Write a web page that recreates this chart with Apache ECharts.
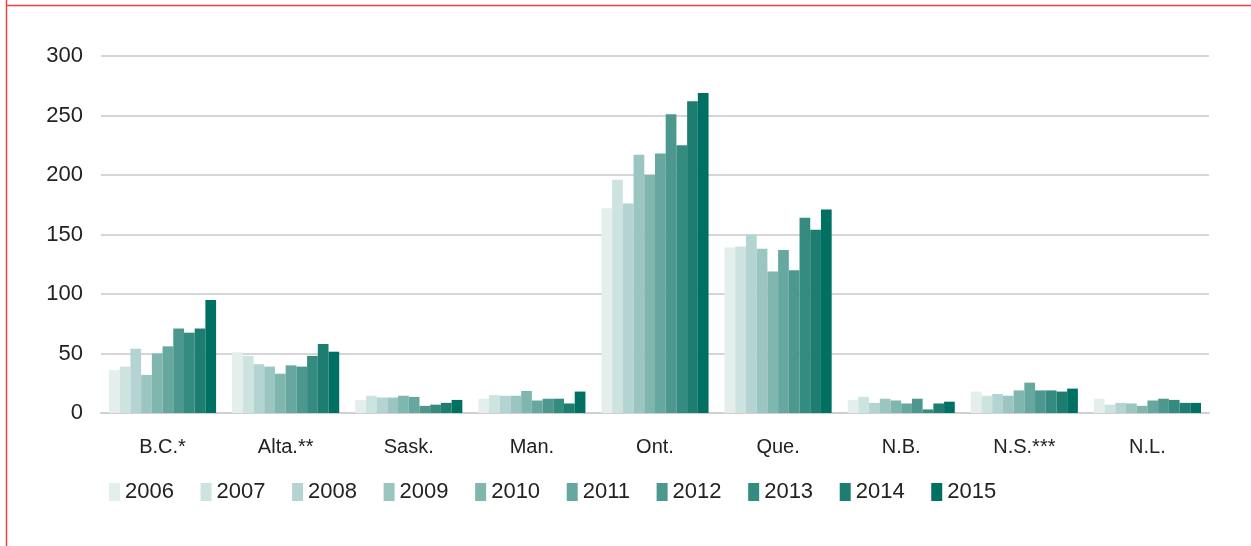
<!DOCTYPE html>
<html>
<head>
<meta charset="utf-8">
<script src="https://cdn.jsdelivr.net/npm/echarts@6/dist/echarts.min.js"></script>
<style>
  html, body { margin: 0; padding: 0; background: #fff; }
  #chart { width: 1251px; height: 546px; }
</style>
</head>
<body>
<div id="chart"></div>
<script>
var provinces = ['B.C.*', 'Alta.**', 'Sask.', 'Man.', 'Ont.', 'Que.', 'N.B.', 'N.S.***', 'N.L.'];
var years = ['2006', '2007', '2008', '2009', '2010', '2011', '2012', '2013', '2014', '2015'];
var colors = ['#e4efed', '#cde3e0', '#b3d4d2', '#9bc5c0', '#7fb6ae', '#66a89f', '#4c988e', '#348b80', '#1d7d71', '#007063'];
var yTicks = [0, 50, 100, 150, 200, 250, 300];

// one array per year, values in province order
var v2006 = [36, 51, 11, 12, 172, 139, 11, 18, 12];
var v2007 = [39, 48, 14.5, 15, 196, 140, 13.5, 14.5, 7];
var v2008 = [54, 41, 13, 14.5, 176, 150, 8.5, 16, 8.5];
var v2009 = [32, 39, 13, 14.5, 217, 138, 12, 14.5, 8];
var v2010 = [50, 33, 14.5, 18.5, 200, 119, 10.5, 19, 6];
var v2011 = [56, 40, 13.5, 10.5, 218, 137, 8, 25.5, 10.5];
var v2012 = [71, 39, 6, 12, 251, 120, 12, 19, 12];
var v2013 = [67.5, 48, 7, 12, 225, 164, 3, 19, 11];
var v2014 = [71, 58, 8.5, 8, 262, 154, 8, 18, 8.5];
var v2015 = [95, 51.5, 11, 18, 269, 171, 9.5, 20.5, 8.5];
var values = [v2006, v2007, v2008, v2009, v2010, v2011, v2012, v2013, v2014, v2015];

var font = 'Liberation Sans';
var chart = echarts.init(document.getElementById('chart'));

var series = years.map(function (y, i) {
    return {
        name: y,
        type: 'bar',
        barGap: '0%',
        barCategoryGap: '13%',
        itemStyle: { color: colors[i] },
        data: values[i]
    };
});

var option = {
    animation: false,
    color: colors,
    textStyle: { fontFamily: font },
    grid: { left: 101, right: 42, top: 56, bottom: 133 },
    legend: {
        data: years,
        left: 104,
        top: 476,
        itemWidth: 11,
        itemHeight: 18,
        itemGap: 26.6,
        icon: 'rect',
        textStyle: { fontSize: 22, color: '#222', fontFamily: font }
    },
    xAxis: {
        type: 'category',
        data: provinces,
        axisTick: { show: false },
        axisLine: { lineStyle: { color: '#d0d0d0', width: 2 } },
        axisLabel: { fontSize: 20, color: '#222', margin: 24, fontFamily: font }
    },
    yAxis: {
        type: 'value',
        min: yTicks[0],
        max: yTicks[yTicks.length - 1],
        interval: 50,
        axisLine: { show: false },
        axisTick: { show: false },
        axisLabel: { fontSize: 22, color: '#222', margin: 18, fontFamily: font },
        splitLine: { lineStyle: { color: '#c8c8c8', width: 1.5 } }
    },
    graphic: [
        { type: 'line', shape: { x1: 6.5, y1: 0, x2: 6.5, y2: 546 }, style: { stroke: '#f04040', lineWidth: 1.5 } },
        { type: 'line', shape: { x1: 6, y1: 5.5, x2: 1251, y2: 5.5 }, style: { stroke: '#f04040', lineWidth: 1.5 } }
    ],
    series: series
};

chart.setOption(option);
</script>
</body>
</html>
